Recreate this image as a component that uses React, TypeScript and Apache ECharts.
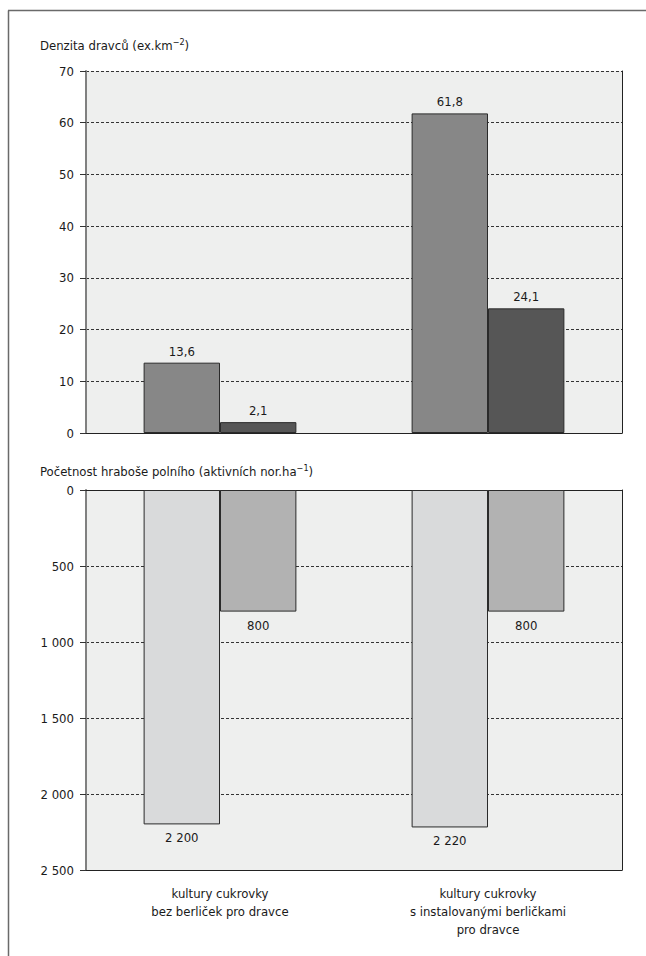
import React, { useEffect, useRef } from "react";
import * as echarts from "echarts";

const categories = [
  "kultury cukrovky\nbez berliček pro dravce",
  "kultury cukrovky\ns instalovanými berličkami\npro dravce",
];
const densityA = [13.6, 61.8];
const densityB = [2.1, 24.1];
const volesA = [2200, 2220];
const volesB = [800, 800];

const FONT = "'Liberation Sans Narrow', 'DejaVu Sans Condensed', 'Roboto Condensed', sans-serif";

const fmtDec = (v: number) => String(v).replace(".", ",");
const fmtThousands = (v: number) =>
  String(Math.round(v)).replace(/\B(?=(\d{3})+(?!\d))/g, " ");

export default function App() {
  const ref = useRef<HTMLDivElement>(null);
  useEffect(() => {
    document.body.style.margin = "0";
    const chart = echarts.init(ref.current!, null, { renderer: "svg" });
    const txt = { fontFamily: FONT, fontSize: 13, color: "#1a1a1a" };
    const bareCat = (gridIndex: number, position: string, line: boolean) => ({
      type: "category",
      gridIndex,
      position,
      data: categories,
      axisLine: { show: line, lineStyle: { color: "#222", width: 1 } },
      axisTick: { show: false },
      axisLabel: { show: false },
      splitLine: { show: false },
    });
    const rightY = (gridIndex: number) => ({
      type: "value",
      gridIndex,
      position: "right",
      axisLine: { show: true, lineStyle: { color: "#222", width: 1 } },
      axisTick: { show: false },
      axisLabel: { show: false },
      splitLine: { show: false },
    });
    const leftYCommon = {
      axisLine: { show: true, lineStyle: { color: "#808080", width: 2 } },
      axisTick: { show: true, inside: false, length: 6, lineStyle: { color: "#333" } },
      splitLine: { show: true, lineStyle: { color: "#333", type: [3, 2], width: 1 } },
    };
    const rich = {
      a: { fontFamily: FONT, fontSize: 13, fill: "#1a1a1a", lineHeight: 16 },
      s: { fontFamily: FONT, fontSize: 9, fill: "#1a1a1a", verticalAlign: "top", lineHeight: 16, padding: [0, 0, 6, 0] },
    };
    chart.setOption({
      animation: false,
      textStyle: { fontFamily: FONT },
      grid: [
        { left: 86, right: 24, top: 71, height: 362, backgroundColor: "#eeefee", show: true, borderWidth: 0 },
        { left: 86, right: 24, top: 490, height: 380, backgroundColor: "#eeefee", show: true, borderWidth: 0 },
      ],
      xAxis: [
        bareCat(0, "bottom", false),
        bareCat(0, "top", true),
        bareCat(1, "top", true),
        {
          ...bareCat(1, "bottom", true),
          axisLabel: { show: true, ...txt, lineHeight: 18, margin: 14, interval: 0 },
        },
      ],
      yAxis: [
        {
          type: "value",
          gridIndex: 0,
          min: 0,
          max: 70,
          interval: 10,
          ...leftYCommon,
          axisLabel: { ...txt, margin: 12 },
        },
        rightY(0),
        {
          type: "value",
          gridIndex: 1,
          min: 0,
          max: 2500,
          interval: 500,
          inverse: true,
          ...leftYCommon,
          axisLabel: { ...txt, margin: 12, formatter: (v: number) => fmtThousands(v) },
        },
        rightY(1),
      ],
      graphic: [
        {
          type: "text",
          left: 40,
          top: 37,
          style: { text: "{a|Denzita dravců (ex.km}{s|−2}{a|)}", rich },
        },
        {
          type: "text",
          left: 40,
          top: 463,
          style: { text: "{a|Početnost hraboše polního (aktivních nor.ha}{s|−1}{a|)}", rich },
        },
        {
          type: "line",
          shape: { x1: 8.5, y1: 10.5, x2: 8.5, y2: 956 },
          style: { stroke: "#6a6a6a", lineWidth: 1.5 },
        },
        {
          type: "line",
          shape: { x1: 8, y1: 10.5, x2: 646, y2: 10.5 },
          style: { stroke: "#6a6a6a", lineWidth: 1.5 },
        },
      ],
      series: [
        {
          type: "bar",
          xAxisIndex: 0,
          yAxisIndex: 0,
          data: densityA,
          barWidth: "28.5%",
          barGap: "0%",
          itemStyle: { color: "#878787", borderColor: "#2a2a2a", borderWidth: 1 },
          label: { show: true, position: "top", distance: 5, ...txt, formatter: (p: any) => fmtDec(p.value) },
        },
        {
          type: "bar",
          xAxisIndex: 0,
          yAxisIndex: 0,
          data: densityB,
          barWidth: "28.5%",
          barGap: "0%",
          itemStyle: { color: "#565656", borderColor: "#2a2a2a", borderWidth: 1 },
          label: { show: true, position: "top", distance: 5, ...txt, formatter: (p: any) => fmtDec(p.value) },
        },
        {
          type: "bar",
          xAxisIndex: 3,
          yAxisIndex: 2,
          data: volesA,
          barWidth: "28.5%",
          barGap: "0%",
          itemStyle: { color: "#d9dadb", borderColor: "#2a2a2a", borderWidth: 1 },
          label: { show: true, position: "bottom", distance: 7, ...txt, formatter: (p: any) => fmtThousands(p.value) },
        },
        {
          type: "bar",
          xAxisIndex: 3,
          yAxisIndex: 2,
          data: volesB,
          barWidth: "28.5%",
          barGap: "0%",
          itemStyle: { color: "#b2b2b2", borderColor: "#2a2a2a", borderWidth: 1 },
          label: { show: true, position: "bottom", distance: 7, ...txt, formatter: (p: any) => fmtThousands(p.value) },
        },
      ],
    });
    return () => chart.dispose();
  }, []);
  return <div ref={ref} style={{ width: 646, height: 956 }} />;
}
